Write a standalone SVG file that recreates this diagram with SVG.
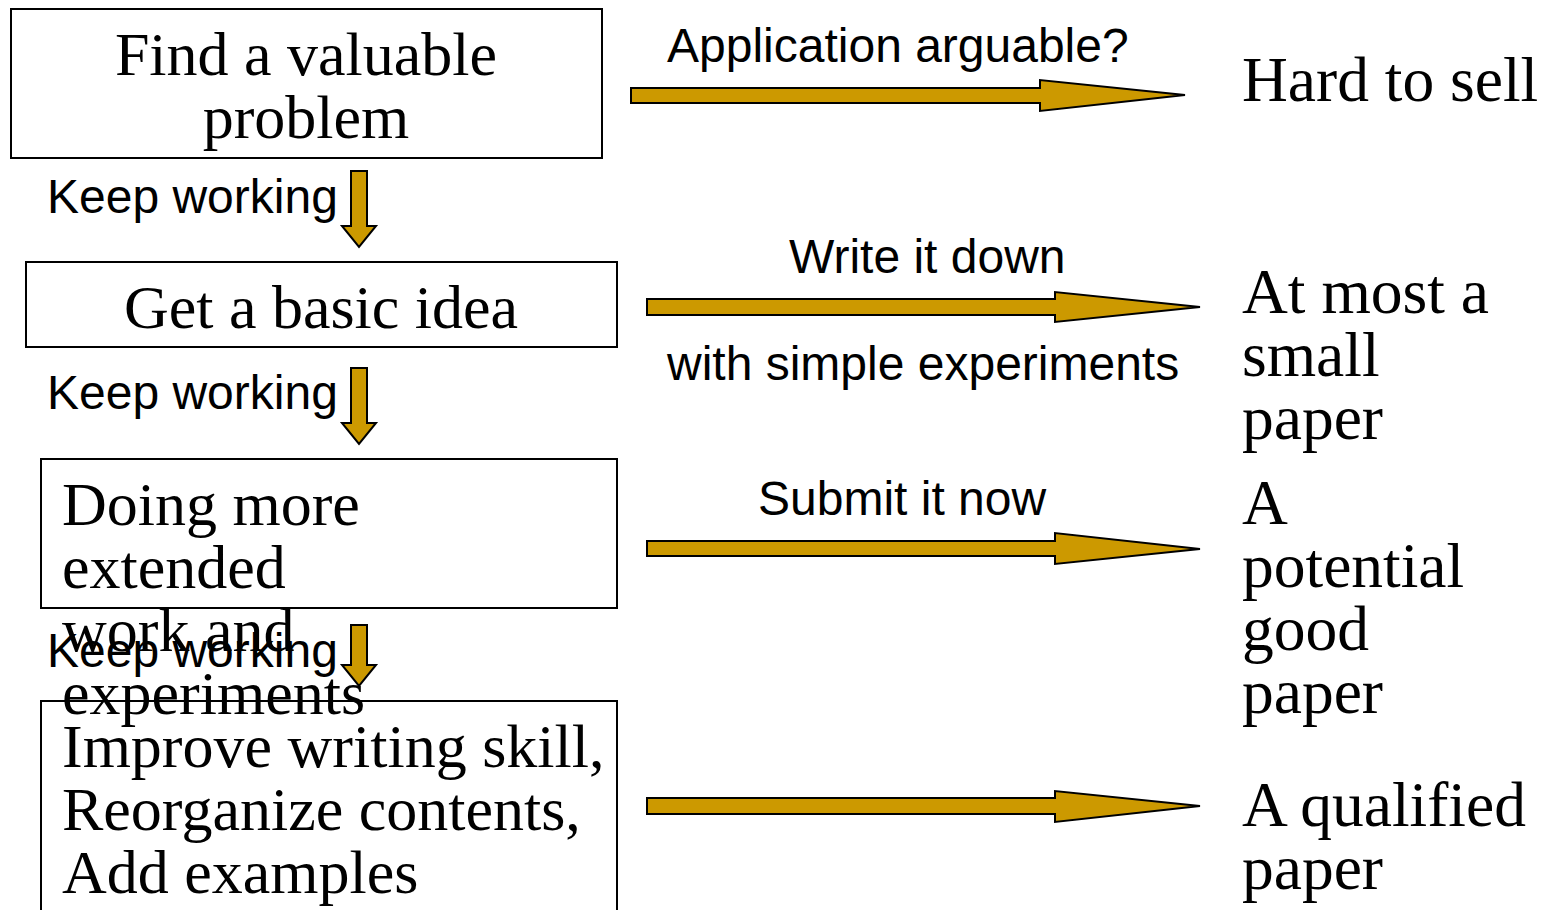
<svg xmlns="http://www.w3.org/2000/svg" width="1545" height="910" viewBox="0 0 1545 910">
<style>
.box{fill:none;stroke:#000;stroke-width:2}
.serif{font-family:"Liberation Serif","Times New Roman",serif;font-size:62px;fill:#000}
.rt{font-family:"Liberation Serif","Times New Roman",serif;font-size:63.5px;fill:#000}
.sans{font-family:"Liberation Sans",Arial,sans-serif;font-size:48px;fill:#000}
.arr{fill:#CC9900;stroke:#000;stroke-width:2;stroke-linejoin:miter}
</style>
<rect width="1545" height="910" fill="#fff"/>
<g id="n1">
<rect class="box" x="11" y="9" width="591" height="149"/>
<text class="serif" x="306" y="75" text-anchor="middle">Find a valuable</text>
<text class="serif" x="306" y="138" text-anchor="middle">problem</text>
</g>
<g id="n2">
<rect class="box" x="26" y="262" width="591" height="85"/>
<text class="serif" x="321" y="328" text-anchor="middle">Get a basic idea</text>
</g>
<g id="n3">
<rect class="box" x="41" y="459" width="576" height="149"/>
<text class="serif" x="62" y="525">Doing more</text>
<text class="serif" x="62" y="588">extended</text>
<text class="serif" x="62" y="651">work and</text>
<text class="serif" x="62" y="714">experiments</text>
</g>
<g id="n4">
<rect class="box" x="41" y="701" width="576" height="230"/>
<text class="serif" x="62" y="767">Improve writing skill,</text>
<text class="serif" x="62" y="830">Reorganize contents,</text>
<text class="serif" x="62" y="893">Add examples</text>
</g>
<g id="r1"><text class="rt" x="1242" y="101">Hard to sell</text></g>
<g id="r2">
<text class="rt" x="1242" y="313">At most a</text>
<text class="rt" x="1242" y="376">small</text>
<text class="rt" x="1242" y="439">paper</text>
</g>
<g id="r3">
<text class="rt" x="1242" y="524">A</text>
<text class="rt" x="1242" y="587">potential</text>
<text class="rt" x="1242" y="650">good</text>
<text class="rt" x="1242" y="713">paper</text>
</g>
<g id="r4">
<text class="rt" x="1242" y="826">A qualified</text>
<text class="rt" x="1242" y="889">paper</text>
</g>
<g id="connectors">
<path class="arr" d="M631,88 H1040 V80 L1185,95 L1040,111 V103 H631 Z"/>
<path class="arr" d="M647,299 H1055 V292 L1200,307 L1055,322 V315 H647 Z"/>
<path class="arr" d="M647,541 H1055 V533 L1200,549 L1055,564 V556 H647 Z"/>
<path class="arr" d="M647,798 H1055 V791 L1200,806 L1055,822 V814 H647 Z"/>
<path class="arr" d="M351,171 H367 V226 H376 L359,247 L342,226 H351 Z"/>
<path class="arr" d="M351,368 H367 V423 H376 L359,444 L342,423 H351 Z"/>
<path class="arr" d="M351,625 H367 V665 H376 L359,686 L342,665 H351 Z"/>
</g>
<g id="labels">
<text class="sans" x="667" y="62">Application arguable?</text>
<text class="sans" x="47" y="213">Keep working</text>
<text class="sans" x="789" y="273">Write it down</text>
<text class="sans" x="667" y="380">with simple experiments</text>
<text class="sans" x="47" y="409">Keep working</text>
<text class="sans" x="758" y="515">Submit it now</text>
<text class="sans" x="47" y="667">Keep working</text>
</g>
</svg>
